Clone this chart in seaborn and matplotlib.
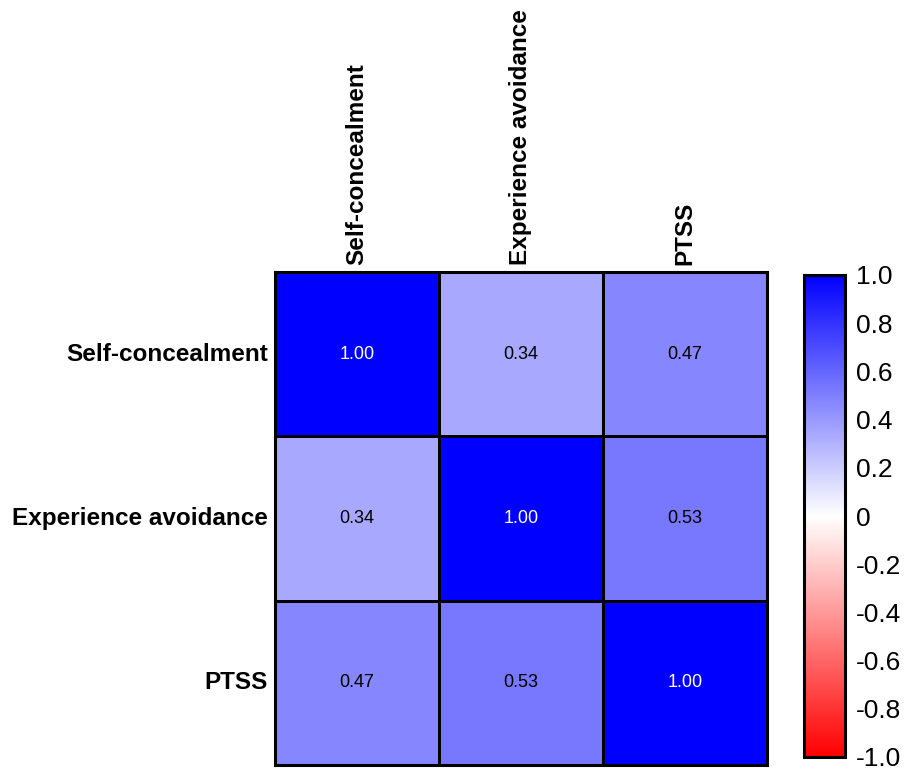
import numpy as np
import pandas as pd
import matplotlib
matplotlib.use("Agg")
import matplotlib.pyplot as plt
from matplotlib.colors import LinearSegmentedColormap
import seaborn as sns

labels = ["Self-concealment", "Experience avoidance", "PTSS"]
row1 = [1.00, 0.34, 0.47]
row2 = [0.34, 1.00, 0.53]
row3 = [0.47, 0.53, 1.00]
cbar_ticks = [1.0, 0.8, 0.6, 0.4, 0.2, 0, -0.2, -0.4, -0.6, -0.8, -1.0]

df = pd.DataFrame([row1, row2, row3], index=labels, columns=labels)

sns.set_style("white")
plt.rcParams['font.family'] = ['Liberation Sans', 'DejaVu Sans']
plt.rcParams['text.color'] = 'black'
plt.rcParams['xtick.color'] = 'black'
plt.rcParams['ytick.color'] = 'black'

cmap = LinearSegmentedColormap.from_list("rwb", ["#ff0000", "#ffffff", "#0000ff"])

fig = plt.figure(figsize=(9.06, 7.75), dpi=100)
ax = fig.add_axes([275/906, 10/775, 492/906, 493/775])
cax = fig.add_axes([804/906, 18/775, 41/906, 482/775])

sns.heatmap(df, ax=ax, cbar_ax=cax, cmap=cmap, vmin=-1, vmax=1,
            annot=True, fmt=".2f", linewidths=0.8, linecolor="black",
            annot_kws={"size": 13})

# white text on the dark diagonal cells
for t in ax.texts:
    t.set_color("white" if float(t.get_text()) > 0.9 else "black")

ax.xaxis.tick_top()
ax.set_xticklabels(labels, rotation=90, fontsize=17.5, fontweight="bold")
ax.set_yticklabels(labels, rotation=0, fontsize=17.5, fontweight="bold")
ax.tick_params(length=0, pad=5)
ax.set_xlabel("")
ax.set_ylabel("")
for s in ax.spines.values():
    s.set_visible(True)
    s.set_linewidth(2.2)
    s.set_color("black")

cbar = ax.collections[0].colorbar
cbar.set_ticks(cbar_ticks)
cbar.set_ticklabels(["0" if v == 0 else "%.1f" % v for v in cbar_ticks], fontsize=19)
cax.tick_params(axis="y", direction="in", length=5, width=2, left=True, right=True, pad=8, colors="black")
cbar.outline.set_linewidth(2.2)
cbar.outline.set_edgecolor("black")

fig.savefig("out.png", dpi=100)
